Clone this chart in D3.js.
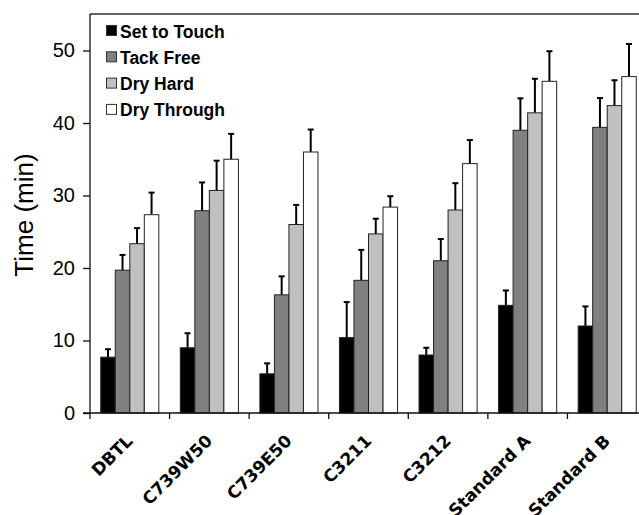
<!DOCTYPE html>
<html><head><meta charset="utf-8">
<script src="https://cdn.jsdelivr.net/npm/d3@7"></script>
<style>body{margin:0;background:#fff;} svg{display:block;}</style>
</head><body>
<svg id="c" width="639" height="515"></svg>
<script>
const categories = ["DBTL","C739W50","C739E50","C3211","C3212","Standard A","Standard B"];
const seriesNames = ["Set to Touch","Tack Free","Dry Hard","Dry Through"];
const setToTouch = [7.7, 9.0, 5.4, 10.4, 8.0, 14.85, 12.0];
const tackFree   = [19.7, 27.9, 16.3, 18.3, 21.0, 39.0, 39.4];
const dryHard    = [23.35, 30.7, 26.0, 24.7, 28.0, 41.4, 42.4];
const dryThrough = [27.35, 35.0, 36.0, 28.4, 34.4, 45.75, 46.4];
const errSetToTouch = [1.1, 2.0, 1.45, 4.9, 1.0, 2.05, 2.7];
const errTackFree   = [2.1, 3.9, 2.55, 4.2, 3.0, 4.4, 4.05];
const errDryHard    = [2.15, 4.1, 2.7, 2.1, 3.7, 4.7, 3.5];
const errDryThrough = [3.05, 3.5, 3.1, 1.5, 3.25, 4.15, 4.5];
const yTicks = [0,10,20,30,40,50];
const colors = ["#000000","#808080","#c0c0c0","#ffffff"];

const values = [setToTouch, tackFree, dryHard, dryThrough];
const errs = [errSetToTouch, errTackFree, errDryHard, errDryThrough];

const svg = d3.select("#c");
const x0 = 90, plotTop = 14, y0 = 413;
const x = d3.scaleBand().domain(categories).range([x0, 647]).paddingInner(0.27).paddingOuter(0.135);
const xs = d3.scaleBand().domain(seriesNames).range([0, x.bandwidth()]);
const y = d3.scaleLinear().domain([0, 50]).range([y0, 50.5]);

svg.append("line").attr("x1", x0).attr("x2", 647).attr("y1", plotTop).attr("y2", plotTop)
  .attr("stroke", "#333").attr("stroke-width", 1.3);

categories.forEach((c, i) => {
  seriesNames.forEach((s, j) => {
    const v = values[j][i], e = errs[j][i];
    const bx = x(c) + xs(s), bw = xs.bandwidth();
    const cx = bx + bw / 2;
    svg.append("line").attr("x1", cx).attr("x2", cx).attr("y1", y(v)).attr("y2", y(v + e))
      .attr("stroke", "#000").attr("stroke-width", 2);
    svg.append("line").attr("x1", cx - 3).attr("x2", cx + 3).attr("y1", y(v + e)).attr("y2", y(v + e))
      .attr("stroke", "#000").attr("stroke-width", 2);
    svg.append("rect").attr("x", bx).attr("y", y(v)).attr("width", bw).attr("height", y0 - y(v))
      .attr("fill", colors[j]).attr("stroke", "#222").attr("stroke-width", 1);
  });
});

const yAxis = svg.append("g").attr("transform", `translate(${x0},0)`)
  .call(d3.axisLeft(y).tickValues(yTicks).tickSize(7).tickPadding(8));
yAxis.select(".domain").attr("d", `M0,${plotTop}V${y0}`).attr("stroke", "#111").attr("stroke-width", 1.3);
yAxis.selectAll(".tick line").attr("stroke", "#111").attr("stroke-width", 1.3);
yAxis.selectAll(".tick text").attr("font-family", "Liberation Sans, Arial, sans-serif")
  .attr("font-size", 20).attr("font-weight", "500").attr("fill", "#000");

const xAxis = svg.append("g").attr("transform", `translate(0,${y0})`);
xAxis.append("line").attr("x1", x0 - 7).attr("x2", 647).attr("y1", 0).attr("y2", 0)
  .attr("stroke", "#111").attr("stroke-width", 1.3);
categories.forEach((c, i) => {
  const tx = x(c) - x.step() * x.paddingOuter();
  xAxis.append("line").attr("x1", tx).attr("x2", tx).attr("y1", 0).attr("y2", 6)
    .attr("stroke", "#111").attr("stroke-width", 1.3);
  const cx = x(c) + x.bandwidth() / 2;
  xAxis.append("text").attr("transform", `translate(${cx + 4},${29}) rotate(-45)`)
    .attr("text-anchor", "end").attr("font-family", "DejaVu Sans, sans-serif")
    .attr("font-weight", "bold").attr("font-size", 17).attr("fill", "#000").text(c);
});

svg.append("text").attr("transform", `translate(33,215) rotate(-90)`)
  .attr("text-anchor", "middle").attr("font-family", "Liberation Sans, Arial, sans-serif")
  .attr("font-size", 26).attr("fill", "#000").text("Time (min)");

const lg = svg.append("g");
seriesNames.forEach((s, j) => {
  const ly = 31 + j * 26.3;
  lg.append("rect").attr("x", 106.5).attr("y", ly - 5.5).attr("width", 10).attr("height", 10)
    .attr("fill", colors[j]).attr("stroke", "#333").attr("stroke-width", 1);
  lg.append("text").attr("x", 120).attr("y", ly + 6.5).attr("font-family", "Liberation Sans, Arial, sans-serif")
    .attr("font-weight", "bold").attr("font-size", 17.5).attr("fill", "#000").text(s);
});
</script>
</body></html>
